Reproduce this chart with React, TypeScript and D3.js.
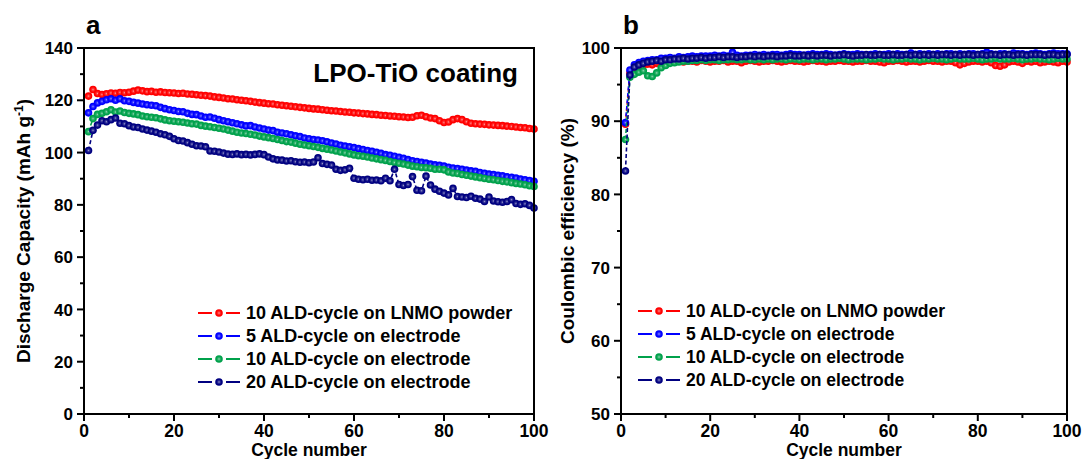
import React from 'react';
import * as d3 from 'd3';

// ---------- data ----------
const cycles: number[] = d3.range(1, 101);

const seriesNames = [
  '10 ALD-cycle on LNMO powder',
  '5 ALD-cycle on electrode',
  '10 ALD-cycle on electrode',
  '20 ALD-cycle on electrode',
];
const seriesColors = ['#ff0000', '#0000ff', '#00a14b', '#000080'];
const gradIds = ['gRed', 'gBlue', 'gGreen', 'gNavy'];

// Panel a: discharge capacity (mAh/g)
const capPowder10 = [
  121.6, 124.1, 122.6, 122.2, 122.5, 122.8, 122.7, 123.0, 122.9, 123.1,
  123.5, 123.9, 123.6, 123.3, 123.4, 123.1, 123.2, 123.0, 122.9, 122.8,
  122.6, 122.7, 122.4, 122.3, 122.1, 121.9, 121.8, 121.6, 121.3, 121.1,
  120.9, 120.6, 120.5, 120.2, 120.0, 119.8, 119.6, 119.3, 119.1, 118.9,
  118.7, 118.6, 118.3, 118.1, 117.9, 117.7, 117.5, 117.3, 117.1, 116.9,
  116.7, 116.6, 116.4, 116.2, 116.0, 115.9, 115.7, 115.5, 115.4, 115.2,
  115.1, 114.9, 114.8, 114.6, 114.5, 114.3, 114.2, 114.0, 113.9, 113.7,
  113.6, 113.4, 113.5, 114.1, 114.3, 113.7, 113.2, 113.0, 112.2, 111.5,
  111.7, 112.6, 113.0, 112.6, 111.8, 111.2, 111.0, 110.9, 110.8, 110.6,
  110.5, 110.4, 110.3, 110.1, 110.0, 109.8, 109.6, 109.5, 109.2, 109.0,
];
const capElec5 = [
  115.2, 117.6, 119.0, 119.6, 120.2, 120.6, 120.0, 120.6, 119.8, 119.6,
  119.2, 118.9, 118.6, 118.3, 118.1, 117.9, 117.3, 116.8, 116.4, 116.1,
  115.7, 115.6, 115.0, 114.6, 114.5, 114.0, 113.5, 113.6, 113.1, 112.6,
  112.2, 111.8, 111.4, 111.0, 110.6, 110.2, 110.3, 109.8, 109.4, 109.0,
  108.6, 108.4, 107.8, 107.5, 107.2, 106.8, 106.4, 106.1, 105.6, 105.3,
  105.0, 104.8, 104.5, 104.1, 103.6, 103.3, 102.8, 102.5, 102.2, 101.9,
  101.5, 101.2, 100.8, 100.5, 100.1, 99.7, 99.2, 99.0, 98.6, 98.2,
  97.8, 97.3, 96.9, 96.6, 96.3, 96.0, 95.6, 95.3, 95.1, 94.8,
  94.4, 94.1, 93.9, 93.6, 93.3, 93.0, 92.8, 92.4, 92.1, 91.8,
  91.6, 91.3, 91.1, 90.7, 90.5, 90.3, 89.9, 89.6, 89.3, 89.0,
];
const capElec10 = [
  108.0, 113.0, 114.6, 115.0, 115.6, 116.4, 115.5, 115.9, 115.3, 115.0,
  114.8, 114.5, 114.0, 113.7, 113.5, 113.3, 112.9, 112.5, 112.2, 112.0,
  111.8, 111.6, 111.3, 111.0, 110.9, 110.4, 110.1, 109.9, 109.6, 109.3,
  109.0, 108.6, 108.2, 107.8, 107.5, 107.3, 107.0, 106.7, 106.3, 106.0,
  105.7, 105.4, 105.0, 104.6, 104.2, 104.0, 103.6, 103.2, 102.9, 102.6,
  102.3, 102.0, 101.6, 101.3, 101.0, 100.6, 100.2, 99.9, 99.5, 99.1,
  98.8, 98.6, 98.3, 97.9, 97.6, 97.3, 97.0, 96.6, 96.2, 95.9,
  95.6, 95.2, 94.8, 94.6, 94.3, 94.2, 94.0, 93.6, 93.6, 93.4,
  92.6, 92.2, 92.0, 91.6, 91.3, 91.0, 90.7, 90.4, 90.1, 89.8,
  89.6, 89.3, 89.0, 88.8, 88.5, 88.2, 88.0, 87.7, 87.3, 87.0,
];
const capElec20 = [
  100.8, 108.5, 110.5, 112.2, 111.8, 112.6, 113.2, 111.2, 111.0, 110.3,
  109.8, 109.6, 109.0, 108.6, 108.2, 107.8, 107.2, 106.8, 106.2, 105.3,
  104.6, 104.4, 103.8, 103.2, 102.6, 102.5, 102.2, 100.6, 100.5, 100.2,
  99.8, 99.4, 99.3, 99.5, 99.2, 99.3, 99.1, 99.3, 99.5, 99.2,
  98.3, 97.6, 97.2, 97.1, 96.8, 96.9, 96.5, 96.3, 96.4, 96.1,
  96.4, 98.0, 95.8, 95.5, 95.2, 93.6, 93.2, 93.4, 94.0, 90.2,
  89.8, 89.6, 89.8, 89.4, 89.5, 89.2, 90.2, 89.2, 93.6, 87.8,
  87.4, 87.8, 90.8, 85.6, 85.4, 91.0, 87.6, 86.0, 85.2, 84.5,
  83.8, 86.3, 83.2, 83.0, 82.8, 83.3, 82.5, 82.2, 81.3, 83.0,
  81.5, 81.2, 81.0, 81.3, 82.0, 80.5, 80.2, 80.4, 79.8, 78.8,
];

// Panel b: coulombic efficiency (%)
const cePowder10 = [
  89.6, 96.6, 97.3, 97.5, 97.6, 97.8, 97.7, 97.9, 98.0, 98.0,
  98.1, 98.1, 98.2, 98.1, 98.2, 98.2, 98.1, 98.3, 98.2, 98.1,
  98.2, 98.2, 98.3, 98.1, 98.2, 98.2, 98.0, 98.2, 98.3, 98.2,
  98.1, 98.2, 98.2, 98.3, 98.2, 98.1, 98.2, 98.3, 98.2, 98.2,
  98.1, 98.2, 98.3, 98.2, 98.2, 98.1, 98.2, 98.2, 98.3, 98.2,
  98.2, 98.1, 98.2, 98.2, 98.3, 98.2, 98.2, 98.1, 98.0, 98.2,
  98.2, 98.3, 98.2, 98.1, 98.2, 98.2, 98.1, 98.2, 98.3, 98.2,
  98.2, 98.1, 98.2, 98.2, 98.0, 97.7, 97.9, 98.1, 98.2, 98.2,
  98.1, 98.2, 98.0, 97.6, 97.5, 97.7, 98.1, 98.2, 98.1, 97.9,
  98.2, 98.1, 98.2, 98.0, 98.1, 98.2, 98.1, 98.0, 98.2, 98.1,
];
const ceElec5 = [
  89.8, 97.0, 97.7, 98.0, 98.2, 98.3, 98.4, 98.4, 98.6, 98.6,
  98.7, 98.6, 98.8, 98.7, 98.8, 98.9, 98.8, 98.9, 98.9, 98.9,
  99.0, 98.9, 99.0, 98.9, 99.4, 99.0, 98.9, 99.0, 99.0, 99.1,
  99.0, 99.1, 99.0, 99.1, 99.1, 99.0, 99.1, 99.2, 99.1, 99.1,
  99.0, 99.1, 99.2, 99.1, 99.1, 99.2, 99.1, 99.0, 99.1, 99.2,
  99.1, 99.1, 99.2, 99.1, 99.0, 99.1, 99.2, 99.1, 99.1, 99.2,
  99.1, 99.2, 99.1, 99.1, 99.3, 99.1, 99.2, 99.1, 99.2, 99.1,
  99.2, 99.1, 99.2, 99.2, 99.1, 99.2, 99.1, 99.2, 99.2, 99.1,
  99.2, 99.4, 99.2, 99.1, 99.2, 99.2, 99.1, 99.3, 99.2, 99.2,
  99.1, 99.2, 99.3, 99.2, 99.1, 99.2, 99.3, 99.2, 99.2, 99.2,
];
const ceElec10 = [
  87.5, 96.0, 96.4, 96.7, 96.9, 96.2, 96.1, 96.6, 97.3, 97.6,
  97.9, 98.0, 98.1, 98.2, 98.2, 98.3, 98.3, 98.4, 98.3, 98.4,
  98.4, 98.3, 98.4, 98.4, 98.5, 98.4, 98.4, 98.5, 98.4, 98.4,
  98.5, 98.4, 98.5, 98.4, 98.5, 98.5, 98.4, 98.5, 98.5, 98.4,
  98.5, 98.5, 98.4, 98.5, 98.5, 98.4, 98.5, 98.5, 98.6, 98.5,
  98.4, 98.5, 98.5, 98.5, 98.4, 98.5, 98.5, 98.6, 98.5, 98.5,
  98.4, 98.5, 98.5, 98.6, 98.5, 98.5, 98.4, 98.5, 98.5, 98.6,
  98.5, 98.5, 98.4, 98.5, 98.6, 98.5, 98.5, 98.5, 98.6, 98.5,
  98.4, 98.5, 98.5, 98.6, 98.5, 98.5, 98.5, 98.6, 98.5, 98.4,
  98.5, 98.5, 98.6, 98.5, 98.5, 98.4, 98.5, 98.6, 98.5, 98.5,
];
const ceElec20 = [
  83.2, 96.3, 97.4, 97.7, 97.9, 98.1, 98.2, 98.3, 98.2, 98.4,
  98.4, 98.5, 98.5, 98.6, 98.5, 98.6, 98.6, 98.7, 98.6, 98.7,
  98.7, 98.8, 98.7, 98.8, 98.8, 98.7, 98.8, 98.8, 98.9, 98.8,
  98.9, 98.8, 98.9, 98.9, 98.8, 98.9, 98.9, 99.0, 98.9, 98.9,
  99.0, 98.9, 99.0, 98.9, 99.0, 99.0, 98.9, 99.0, 99.0, 99.1,
  99.0, 98.9, 99.0, 99.0, 99.1, 99.0, 99.0, 99.1, 99.0, 99.0,
  99.1, 99.0, 99.0, 99.1, 99.0, 99.1, 99.0, 99.1, 99.0, 99.1,
  99.0, 99.1, 99.1, 99.0, 99.1, 99.0, 99.1, 99.1, 99.0, 99.1,
  99.1, 99.0, 99.1, 99.1, 99.0, 99.1, 99.1, 99.0, 99.1, 99.1,
  99.0, 99.1, 99.1, 99.1, 99.0, 99.1, 99.1, 99.0, 99.1, 99.1,
];

const xMajorTicks = [0, 20, 40, 60, 80, 100];
const xMinorTicks = [10, 30, 50, 70, 90];
const capMajorTicks = [0, 20, 40, 60, 80, 100, 120, 140];
const capMinorTicks = [10, 30, 50, 70, 90, 110, 130];
const ceMajorTicks = [50, 60, 70, 80, 90, 100];
const ceMinorTicks = [55, 65, 75, 85, 95];

const FONT = "'Liberation Sans', Arial, Helvetica, sans-serif";

type PanelProps = {
  left: number; right: number; top: number; bottom: number;
  yDomain: [number, number];
  yMajor: number[]; yMinor: number[];
  series: number[][];
  letter: string;
  yTitle: React.ReactNode;
  yTitleX: number;
  legendX: number; legendY: number; legendDy: number; legendFont: number;
  children?: React.ReactNode;
};

function Panel(p: PanelProps) {
  const x = d3.scaleLinear().domain([0, 100]).range([p.left, p.right]);
  const y = d3.scaleLinear().domain(p.yDomain).range([p.bottom, p.top]);
  const line = d3.line<number>().x((_, i) => x(cycles[i])).y((d) => y(d));
  const midY = (p.top + p.bottom) / 2;
  return (
    <g>
      {/* series */}
      {p.series.map((s, si) => (
        <g key={si}>
          <path d={line(s) || ''} fill="none" stroke={seriesColors[si]} strokeWidth={1.6} strokeDasharray="4,2.5" />
          {s.map((v, i) => (
            <circle key={i} cx={x(cycles[i])} cy={y(v)} r={3.8} fill={`url(#${gradIds[si]})`} />
          ))}
        </g>
      ))}
      {/* frame */}
      <rect x={p.left} y={p.top} width={p.right - p.left} height={p.bottom - p.top} fill="none" stroke="#000" strokeWidth={2} />
      {/* y ticks */}
      {p.yMajor.map((t) => (
        <g key={'ym' + t}>
          <line x1={p.left - 7} x2={p.left} y1={y(t)} y2={y(t)} stroke="#000" strokeWidth={2} />
          <text x={p.left - 11} y={y(t)} dy="0.36em" textAnchor="end" fontSize={17} fontWeight="bold" fontFamily={FONT}>{t}</text>
        </g>
      ))}
      {p.yMinor.map((t) => (
        <line key={'yn' + t} x1={p.left - 4} x2={p.left} y1={y(t)} y2={y(t)} stroke="#000" strokeWidth={2} />
      ))}
      {/* x ticks */}
      {xMajorTicks.map((t) => (
        <g key={'xm' + t}>
          <line x1={x(t)} x2={x(t)} y1={p.bottom} y2={p.bottom + 7} stroke="#000" strokeWidth={2} />
          <text x={x(t)} y={p.bottom + 23} textAnchor="middle" fontSize={17.5} fontWeight="bold" fontFamily={FONT}>{t}</text>
        </g>
      ))}
      {xMinorTicks.map((t) => (
        <line key={'xn' + t} x1={x(t)} x2={x(t)} y1={p.bottom} y2={p.bottom + 4} stroke="#000" strokeWidth={2} />
      ))}
      <text x={(p.left + p.right) / 2} y={p.bottom + 42} textAnchor="middle" fontSize={17.5} fontWeight="bold" fontFamily={FONT}>Cycle number</text>
      <text transform={`translate(${p.yTitleX},${midY}) rotate(-90)`} textAnchor="middle" fontSize={19} fontWeight="bold" fontFamily={FONT}>{p.yTitle}</text>
      <text x={p.left + 2} y={p.top - 14} fontSize={26} fontWeight="bold" fontFamily={FONT}>{p.letter}</text>
      {/* legend */}
      {seriesNames.map((name, si) => {
        const ly = p.legendY + si * p.legendDy;
        return (
          <g key={'lg' + si}>
            <line x1={p.legendX} x2={p.legendX + 14} y1={ly} y2={ly} stroke={seriesColors[si]} strokeWidth={2} />
            <line x1={p.legendX + 28} x2={p.legendX + 42} y1={ly} y2={ly} stroke={seriesColors[si]} strokeWidth={2} />
            <circle cx={p.legendX + 21} cy={ly} r={3.8} fill={`url(#${gradIds[si]})`} />
            <text x={p.legendX + 48} y={ly} dy="0.36em" fontSize={p.legendFont} fontWeight="bold" fontFamily={FONT}>{name}</text>
          </g>
        );
      })}
      {p.children}
    </g>
  );
}

export default function App() {
  return (
    <svg width={1086} height={459} style={{ position: 'absolute', left: 0, top: 0, background: '#fff' }}>
      <defs>
        {seriesColors.map((c, i) => (
          <radialGradient key={i} id={gradIds[i]} cx="0.5" cy="0.5" r="0.5">
            <stop offset="0%" stopColor={d3.interpolateRgb(c, '#ffffff')(0.6)} />
            <stop offset="30%" stopColor={d3.interpolateRgb(c, '#ffffff')(0.2)} />
            <stop offset="70%" stopColor={c} />
            <stop offset="100%" stopColor={c} />
          </radialGradient>
        ))}
      </defs>
      <rect width={1086} height={459} fill="#fff" />
      <Panel
        left={84} right={534} top={48} bottom={414}
        yDomain={[0, 140]} yMajor={capMajorTicks} yMinor={capMinorTicks}
        series={[capPowder10, capElec5, capElec10, capElec20]}
        letter="a"
        yTitle={<>Discharge Capacity (mAh g<tspan dy={-7} fontSize={12}>-1</tspan><tspan dy={7}>)</tspan></>}
        yTitleX={30}
        legendX={198} legendY={313} legendDy={23} legendFont={18}
      >
        <text x={518} y={82} textAnchor="end" fontSize={26} fontWeight="bold" fontFamily={FONT}>LPO-TiO coating</text>
      </Panel>
      <Panel
        left={621} right={1067} top={48} bottom={414}
        yDomain={[50, 100]} yMajor={ceMajorTicks} yMinor={ceMinorTicks}
        series={[cePowder10, ceElec5, ceElec10, ceElec20]}
        letter="b"
        yTitle={<>Coulombic efficiency (%)</>}
        yTitleX={574}
        legendX={638} legendY={311} legendDy={23} legendFont={17.5}
      />
    </svg>
  );
}
